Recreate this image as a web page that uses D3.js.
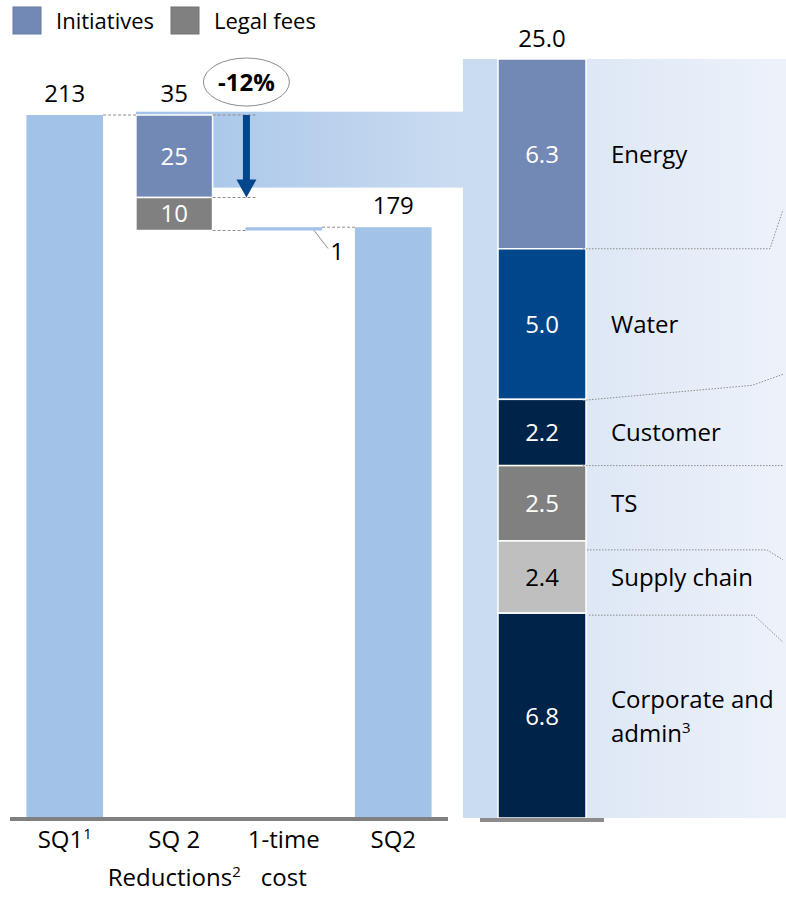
<html>
<head>
<script src="https://d3js.org/d3.v7.min.js"></script>
<style>
  body { margin: 0; background: #fff; }
  text { font-family: "Open Sans", sans-serif; fill: #000; }
  .dash { stroke: #8c8c8c; stroke-width: 1; stroke-dasharray: 3,2; fill: none; }
  .dot { stroke: #8c8c8c; stroke-width: 1; stroke-dasharray: 1.5,1.5; fill: none; }
</style>
</head>
<body>
<svg id="chart" width="786" height="897"></svg>
<script>
// waterfall (left)
const categories = ["SQ1", "SQ 2 Reductions", "1-time cost", "SQ2"];
const catLines = [
  [["SQ1", "1"]],
  [["SQ 2", ""], ["Reductions", "2"]],
  [["1-time", ""], ["cost", ""]],
  [["SQ2", ""]]
];
const startValue = 213;
const initiatives = 25;
const legalFees = 10;
const oneTimeCost = 1;
const endValue = 179;
const changeLabel = "-12%";

// breakdown of initiatives (right)
const segNames = ["Energy", "Water", "Customer", "TS", "Supply chain", "Corporate and|admin"];
const segValues = [6.3, 5.0, 2.2, 2.5, 2.4, 6.8];
const segColors = ["#7289b5", "#00468b", "#00234a", "#808080", "#bfbfbf", "#00234a"];
const segTextColors = ["#fff", "#fff", "#fff", "#fff", "#000", "#fff"];
const segTotal = 25.0;

const legendNames = ["Initiatives", "Legal fees"];
const legendColors = ["#7289b5", "#808080"];

const barBlue = "#a3c2e8";

const svg = d3.select("#chart");
const defs = svg.append("defs");

const x = d3.scaleBand().domain(categories).range([10, 448]).paddingInner(0.3).paddingOuter(0.15);
const bw = x.bandwidth();
const y = d3.scaleLinear().domain([0, startValue]).range([818, 115]);

const stackSum = d3.sum(segValues);
const yR = d3.scaleLinear().domain([0, stackSum]).range([818, 59]);
const barX = 498, barW = 88;

// gradients
const g1 = defs.append("linearGradient").attr("id", "band").attr("x1", 0).attr("x2", 1).attr("y1", 0).attr("y2", 0);
g1.append("stop").attr("offset", "0%").attr("stop-color", "#a3c2e8");
g1.append("stop").attr("offset", "100%").attr("stop-color", "#cadcf0");
const g2 = defs.append("linearGradient").attr("id", "panel").attr("x1", 0).attr("x2", 1).attr("y1", 0).attr("y2", 0);
g2.append("stop").attr("offset", "0%").attr("stop-color", "#dde7f5");
g2.append("stop").attr("offset", "100%").attr("stop-color", "#edf2fa");

// exploding band + right panel background
const bandLeft = x(categories[1]);
svg.append("rect")
  .attr("x", bandLeft).attr("y", y(startValue + 1))
  .attr("width", 463 - bandLeft).attr("height", y(startValue - initiatives + 3) - y(startValue + 1))
  .attr("fill", "url(#band)");
svg.append("rect")
  .attr("x", 463).attr("y", yR(stackSum)).attr("width", barX - 463).attr("height", yR(0) - yR(stackSum))
  .attr("fill", "#cadcf0");
svg.append("rect")
  .attr("x", barX + barW).attr("y", yR(stackSum)).attr("width", 786 - barX - barW).attr("height", yR(0) - yR(stackSum))
  .attr("fill", "url(#panel)");

// legend
const leg = svg.append("g");
legendNames.forEach((n, i) => {
  const lx = [13, 171][i];
  leg.append("rect").attr("x", lx).attr("y", 7).attr("width", 28).attr("height", 27)
    .attr("fill", legendColors[i]).attr("stroke", d3.color(legendColors[i]).darker(0.3)).attr("stroke-width", 1);
  leg.append("text").attr("x", lx + 43).attr("y", 29).attr("font-size", 22).text(n);
});

// waterfall bars
const afterReductions = startValue - initiatives - legalFees;
svg.append("rect").attr("x", x(categories[0])).attr("y", y(startValue))
  .attr("width", bw).attr("height", y(0) - y(startValue)).attr("fill", barBlue);
svg.append("rect").attr("x", x(categories[1])).attr("y", y(startValue))
  .attr("width", bw).attr("height", y(startValue - initiatives) - y(startValue))
  .attr("fill", legendColors[0]).attr("stroke", "#fff").attr("stroke-width", 1.5);
svg.append("rect").attr("x", x(categories[1])).attr("y", y(startValue - initiatives))
  .attr("width", bw).attr("height", y(afterReductions) - y(startValue - initiatives))
  .attr("fill", legendColors[1]).attr("stroke", "#fff").attr("stroke-width", 1.5);
svg.append("rect").attr("x", x(categories[2])).attr("y", y(afterReductions + oneTimeCost))
  .attr("width", bw).attr("height", y(afterReductions) - y(afterReductions + oneTimeCost)).attr("fill", barBlue);
svg.append("rect").attr("x", x(categories[3])).attr("y", y(endValue))
  .attr("width", bw).attr("height", y(0) - y(endValue)).attr("fill", barBlue);

// dashed connectors
const dashes = [
  [x(categories[0]) + bw, x(categories[1]), y(startValue)],
  [x(categories[1]) + bw, x(categories[2]) + 10, y(startValue)],
  [x(categories[1]) + bw, x(categories[2]) + 10, y(startValue - initiatives)],
  [x(categories[1]) + bw, x(categories[2]), y(afterReductions)],
  [x(categories[2]) + bw, x(categories[3]), y(endValue)]
];
svg.selectAll(".dash").data(dashes).enter().append("line").attr("class", "dash")
  .attr("x1", d => d[0]).attr("x2", d => d[1]).attr("y1", d => d[2]).attr("y2", d => d[2]);

// values
const valText = (tx, ty, t, col) => svg.append("text").attr("x", tx).attr("y", ty)
  .attr("text-anchor", "middle").attr("font-size", 24).style("fill", col || "#000").text(t);
valText(x(categories[0]) + bw / 2, y(startValue) - 13, startValue);
valText(x(categories[1]) + bw / 2, y(startValue) - 13, initiatives + legalFees);
valText(x(categories[3]) + bw / 2, y(endValue) - 13, endValue);
valText(x(categories[1]) + bw / 2, (y(startValue) + y(startValue - initiatives)) / 2 + 9, initiatives, "#fff");
valText(x(categories[1]) + bw / 2, (y(startValue - initiatives) + y(afterReductions)) / 2 + 8, legalFees, "#fff");

// 1-time cost label with leader
const ox = x(categories[2]) + bw - 8;
svg.append("line").attr("x1", ox).attr("y1", y(afterReductions)).attr("x2", ox + 14).attr("y2", y(afterReductions) + 18)
  .attr("stroke", "#8c8c8c").attr("stroke-width", 1);
valText(ox + 23, y(afterReductions) + 29, oneTimeCost);

// arrow and change bubble
const ax = x(categories[2]) + 1;
svg.append("rect").attr("x", ax - 3.5).attr("y", y(startValue)).attr("width", 7)
  .attr("height", y(startValue - initiatives) - y(startValue) - 16).attr("fill", "#00468b");
svg.append("path")
  .attr("d", `M${ax - 10},${y(startValue - initiatives) - 18} L${ax + 10},${y(startValue - initiatives) - 18} L${ax},${y(startValue - initiatives)} Z`)
  .attr("fill", "#00468b");
svg.append("ellipse").attr("cx", ax).attr("cy", y(startValue) - 33).attr("rx", 43).attr("ry", 24)
  .attr("fill", "#fff").attr("stroke", "#8c8c8c").attr("stroke-width", 1);
svg.append("text").attr("x", ax).attr("y", y(startValue) - 24).attr("text-anchor", "middle")
  .attr("font-size", 24).attr("font-weight", "bold").text(changeLabel);

// baseline + category labels
svg.append("rect").attr("x", 10).attr("y", 817).attr("width", 438).attr("height", 4).attr("fill", "#808080");
catLines.forEach((lines, i) => {
  lines.forEach((ln, j) => {
    const t = svg.append("text").attr("x", x(categories[i]) + bw / 2).attr("y", 848 + j * 38)
      .attr("text-anchor", "middle").attr("font-size", 24);
    t.append("tspan").text(ln[0]);
    if (ln[1]) t.append("tspan").attr("font-size", 15).attr("dy", -9).text(ln[1]);
  });
});

// stacked breakdown
let cum = stackSum;
const segs = segValues.map((v, i) => {
  const top = cum; cum -= v;
  return { name: segNames[i], value: v, top: top, bottom: cum, color: segColors[i], tc: segTextColors[i] };
});
svg.selectAll(".seg").data(segs).enter().append("rect").attr("class", "seg")
  .attr("x", barX).attr("y", d => yR(d.top)).attr("width", barW).attr("height", d => yR(d.bottom) - yR(d.top))
  .attr("fill", d => d.color).attr("stroke", "#fff").attr("stroke-width", 1.5);
svg.selectAll(".segval").data(segs).enter().append("text").attr("class", "segval")
  .attr("x", barX + barW / 2).attr("y", d => (yR(d.top) + yR(d.bottom)) / 2 + 9)
  .attr("text-anchor", "middle").attr("font-size", 24).style("fill", d => d.tc)
  .text(d => d3.format(".1f")(d.value));
segs.forEach(d => {
  const parts = d.name.split("|");
  const cy = (yR(d.top) + yR(d.bottom)) / 2;
  parts.forEach((p, j) => {
    const t = svg.append("text").attr("x", 611).attr("y", cy + 9 + (j - (parts.length - 1) / 2) * 34).attr("font-size", 24);
    t.append("tspan").text(p);
    if (j === 1) t.append("tspan").attr("font-size", 15).attr("dy", -9).text("3");
  });
});
svg.append("text").attr("x", barX + barW / 2).attr("y", yR(stackSum) - 12).attr("text-anchor", "middle")
  .attr("font-size", 24).text(d3.format(".1f")(segTotal));
svg.append("rect").attr("x", 480).attr("y", 818).attr("width", 124).attr("height", 4).attr("fill", "#8c8c8c");

// dotted leaders to the right edge
const leaders = [
  [[0, 0], [187, 0], [200, -39]],
  [[0, 1], [169, -14], [200, -25]],
  [[0, 0], [200, 0]],
  [[4, 9], [184, 9], [200, 19]],
  [[6, 2], [171, 2], [200, 29]]
];
const line = d3.line();
leaders.forEach((pts, i) => {
  const by = yR(segs[i].bottom);
  svg.append("path").attr("class", "dot")
    .attr("d", line(pts.map(p => [barX + barW - 3 + p[0], by + p[1]])));
});
</script>
</body>
</html>
